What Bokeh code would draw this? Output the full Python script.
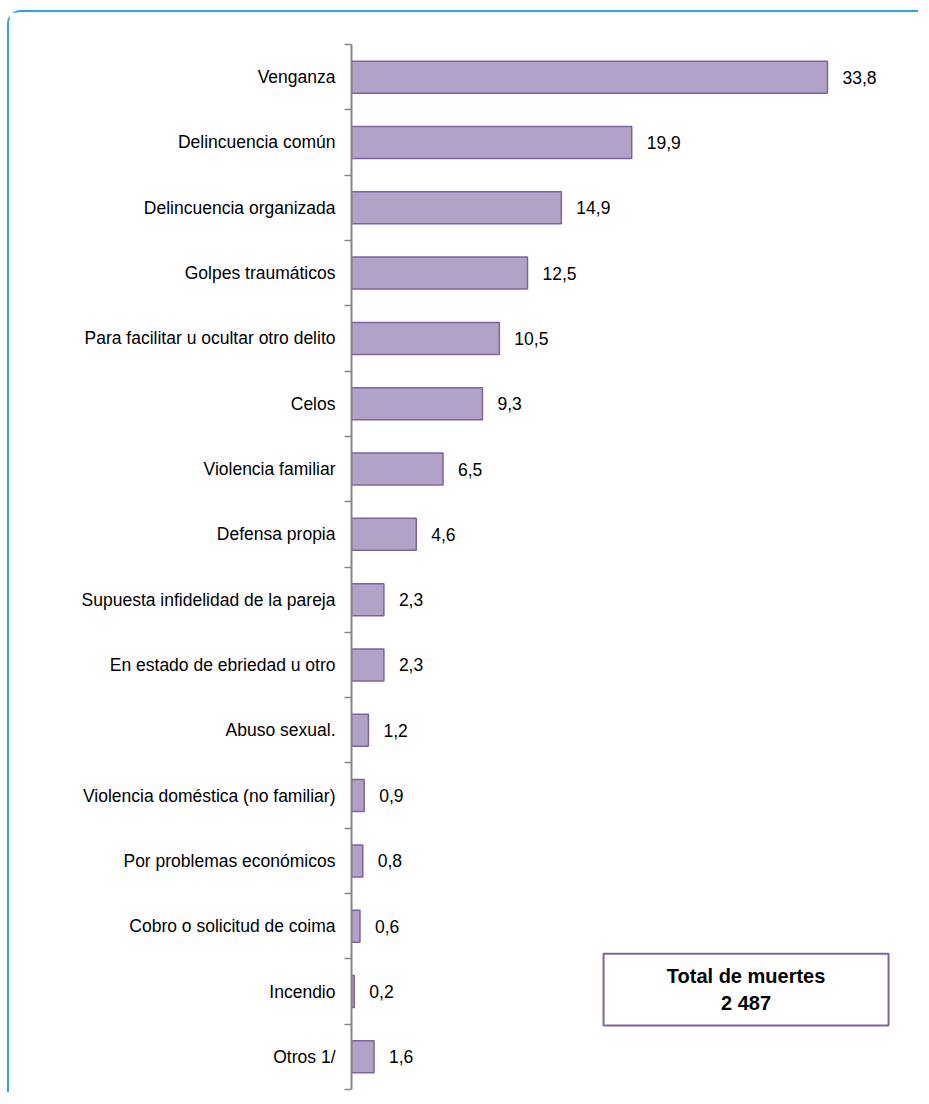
from bokeh.plotting import figure
from bokeh.models import Range1d, FixedTicker, ColumnDataSource, BoxAnnotation, Label
from bokeh.core.properties import value
from bokeh.embed import file_html
from bokeh.resources import INLINE

categories = [
    "Venganza", "Delincuencia común", "Delincuencia organizada", "Golpes traumáticos",
    "Para facilitar u ocultar otro delito", "Celos", "Violencia familiar", "Defensa propia",
    "Supuesta infidelidad de la pareja", "En estado de ebriedad u otro", "Abuso sexual.",
    "Violencia doméstica (no familiar)", "Por problemas económicos", "Cobro o solicitud de coima",
    "Incendio", "Otros 1/",
]
values = [33.8, 19.9, 14.9, 12.5, 10.5, 9.3, 6.5, 4.6, 2.3, 2.3, 1.2, 0.9, 0.8, 0.6, 0.2, 1.6]
total_title = "Total de muertes"
total_value = "2 487"

FONT = "Liberation Sans"

n = len(categories)
ypos = [n - 1 - i for i in range(n)]
labels = [f"{v:.1f}".replace(".", ",") for v in values]
src = ColumnDataSource(dict(y=ypos, v=values, lab=labels))

p = figure(width=911, height=1082, output_backend="svg", toolbar_location=None,
           x_range=Range1d(0, 39.84), y_range=Range1d(-0.5, n - 0.5),
           min_border_left=342, min_border_right=8, min_border_top=32, min_border_bottom=5)
p.styles = {"border-top": "2px solid #29a8e0", "border-left": "2px solid #29a8e0",
            "border-top-left-radius": "14px", "margin-top": "10px", "margin-left": "7px"}
p.outline_line_color = None
p.xgrid.visible = False
p.ygrid.visible = False
p.xaxis.visible = False
p.background_fill_color = None

p.hbar(y="y", right="v", left=0, height=0.49, source=src,
       fill_color="#b3a2c7", line_color="#7f63a1", line_width=1.5)
p.text(x="v", y="y", text="lab", source=src, x_offset=15, text_align="left",
       text_baseline="middle", text_font=value(FONT), text_font_size="17.5px", text_color="#000000")

ax = p.yaxis[0]
ax.ticker = FixedTicker(ticks=ypos, minor_ticks=[k - 0.5 for k in range(n + 1)])
ax.major_label_overrides = {y: c for y, c in zip(ypos, categories)}
ax.major_tick_out = 0
ax.major_tick_in = 0
ax.minor_tick_out = 7
ax.minor_tick_in = 0
ax.minor_tick_line_color = "#868686"
ax.minor_tick_line_width = 1.5
ax.axis_line_color = "#868686"
ax.axis_line_width = 2
ax.major_label_standoff = 9
ax.major_label_text_font = FONT
ax.major_label_text_font_size = "17.5px"
ax.major_label_text_color = "#000000"

box = BoxAnnotation(left=17.9, right=38.14, bottom=0.48, top=1.58,
                    fill_color="white", fill_alpha=1.0, line_color="#7f63a1",
                    line_alpha=1.0, line_width=2)
p.add_layout(box)
p.add_layout(Label(x=28.02, y=1.24, text=total_title, text_align="center", text_baseline="middle",
                   text_font=FONT, text_font_size="20px", text_font_style="bold", text_color="#000000"))
p.add_layout(Label(x=28.02, y=0.83, text=total_value, text_align="center", text_baseline="middle",
                   text_font=FONT, text_font_size="20px", text_font_style="bold", text_color="#000000"))

open("out.html", "w").write(file_html(p, INLINE))
